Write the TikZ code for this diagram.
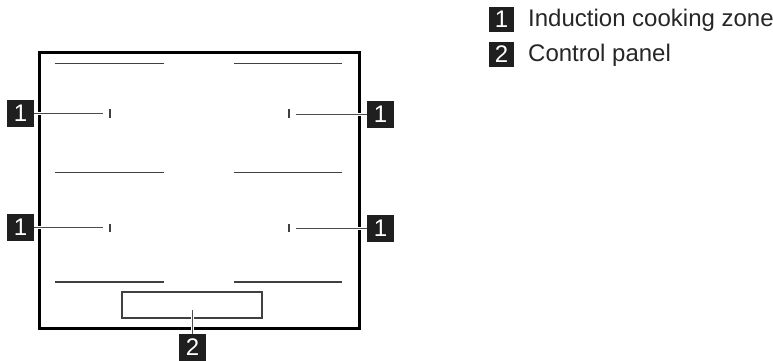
\documentclass[tikz,border=0pt]{standalone}
\usepackage{fontspec}
\setmainfont{Liberation Sans}
\tikzset{
  callout/.style={fill=black!88,text=white,minimum size=27pt,inner sep=0pt,font=\fontsize{24}{24}\selectfont},
  legendtag/.style={callout,minimum size=25pt},
  legendtext/.style={anchor=base west,inner sep=0pt,text=black!85,font=\fontsize{24}{24}\selectfont},
  zone/.style={line width=1.3pt,black!75},
  leader/.style={line width=1.3pt,black!70,preaction={draw=white,line width=3.2pt}}
}
\begin{document}
\begin{tikzpicture}[x=1pt,y=-1pt]
  \useasboundingbox (0,0) rectangle (773,361);
  \draw[line width=3pt,black] (39.5,53) rectangle (359.5,328);
  \node[draw=black!75,line width=1.3pt,minimum width=140pt,minimum height=26pt,inner sep=0pt] (panel) at (192,305) {};
  \draw[zone] (55,63.5) -- (164,63.5);
  \draw[zone] (234,63.5) -- (342,63.5);
  \draw[zone] (55,172.5) -- (164,172.5);
  \draw[zone] (234,172.5) -- (342,172.5);
  \draw[zone] (55,282) -- (164,282);
  \draw[zone] (234,282) -- (342,282);
  \draw[zone] (110,109) -- (110,118);
  \draw[zone] (110,224) -- (110,232);
  \draw[zone] (289,109) -- (289,118);
  \draw[zone] (289,224) -- (289,232);
  \node[callout] (a) at (20.5,113.5) {1};
  \node[callout] (b) at (20.5,227.5) {1};
  \node[callout] (c) at (380.5,114.5) {1};
  \node[callout] (d) at (380.5,228.5) {1};
  \node[callout] (e) at (192.5,347.5) {2};
  \coordinate (aend) at (103,113.5);
  \coordinate (bend) at (103,227.5);
  \coordinate (cend) at (296,114.5);
  \coordinate (dend) at (296,228.5);
  \coordinate (eend) at (192.5,310);
  \draw[leader] (a) -- (aend);
  \draw[leader] (b) -- (bend);
  \draw[leader] (c) -- (cend);
  \draw[leader] (d) -- (dend);
  \draw[leader] (e) -- (eend);
  \node[legendtag] (tag1) at (501.5,19.5) {1};
  \node[legendtag] (tag2) at (501.5,54.5) {2};
  \node[legendtext] (text1) at (528,27) {Induction cooking zone};
  \node[legendtext] (text2) at (528,62) {Control panel};
\end{tikzpicture}
\end{document}
